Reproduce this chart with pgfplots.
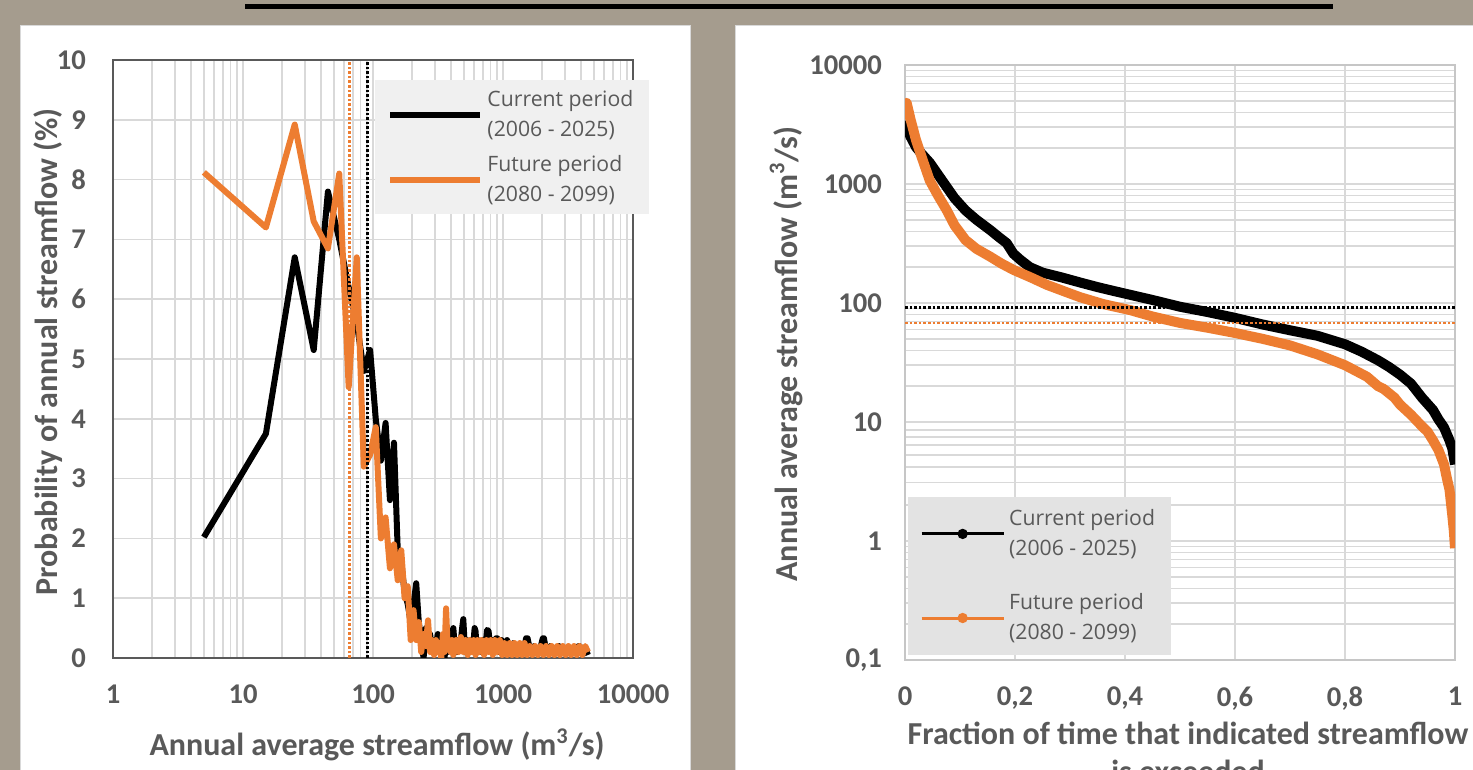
\documentclass[border=0pt]{standalone}
\usepackage{fontspec}
\setmainfont{Carlito}
\newfontfamily\legfont{Open Sans}
\usepackage{pgfplots}
\pgfplotsset{compat=1.18}
\definecolor{bgstone}{RGB}{165,156,142}
\definecolor{xlorange}{RGB}{237,125,49}
\definecolor{txtgray}{RGB}{89,89,89}
\definecolor{gridgray}{RGB}{217,217,217}
\pgfplotsset{
  panel/.style={scale only axis, anchor=south west,
    tick label style={font=\fontsize{14.3}{16}\selectfont\bfseries, text=txtgray},
    major tick length=0pt, minor tick length=0pt,
    grid style={draw=gridgray, line width=0.8pt},
    xticklabel style={yshift=-10pt},
    legend style={font=\legfont\fontsize{10.6}{15}\selectfont, text=txtgray, draw=none,
      cells={anchor=west, align=left}},
    legend cell align=left},
}
\tikzset{axlabel/.style={font=\fontsize{16}{19}\selectfont\bfseries, text=txtgray}}
\begin{document}
\begin{tikzpicture}
\useasboundingbox (0,0) rectangle (736.5pt,385pt);
\clip (0,0) rectangle (736.5pt,385pt);
\fill[bgstone] (0,0) rectangle (736.5pt,385pt);
\filldraw[fill=white, draw=gray!30] (10pt,-10pt) rectangle (345pt,372.5pt);
\filldraw[fill=white, draw=gray!30] (367.5pt,-10pt) rectangle (745pt,372.5pt);
\draw[black, line width=2.5pt] (122.5pt,381.5pt) -- (666.5pt,381.5pt);

% left: probability of annual streamflow
\begin{axis}[panel, at={(56.5pt,56pt)}, width=260pt, height=299pt,
  xmode=log, xmin=1, xmax=10000, ymin=0, ymax=10,
  xtick={1,10,100,1000,10000}, xticklabels={1,10,100,1000,10000},
  minor xtick={2,...,9,20,30,...,90,200,300,...,900,2000,3000,...,9000},
  ytick={0,1,2,3,4,5,6,7,8,9,10}, yticklabels={0,1,2,3,4,5,6,7,8,9,10},
  yticklabel style={xshift=-10pt},
  xmajorgrids, xminorgrids, ymajorgrids,
  axis line style={draw=txtgray, line width=0.8pt},
  legend style={at={(0.504,0.967)}, anchor=north west, fill=gray!12,
    inner xsep=6pt, inner ysep=3pt, row sep=4pt},
  legend image code/.code={\draw[#1] (0pt,0pt) -- (45pt,0pt);}]
\addplot[black, line width=3pt, line join=round] coordinates {
 (5,2.02) (15,3.75) (25,6.7) (35,5.15) (45,7.8) (55,7.0) (65,6.2) (75,5.6) (85,4.8)
 (95,5.15) (105,4.0) (115,3.3) (125,3.93) (135,2.64) (145,3.6) (155,1.8) (165,1.6)
 (175,1.1) (185,0.9) (195,0.6) (205,0.9) (215,1.25) (225,0.6) (235,0.3) (245,0)
 (255,0.5) (265,0.2) (275,0.4) (285,0.1) (295,0.3) (305,0.2) (315,0.4) (325,0.1)
 (335,0.3) (345,0.2) (355,0) (365,0.3) (375,0.1) (385,0.3) (395,0.2) (405,0.4)
 (415,0.5) (425,0.2) (435,0.3) (445,0.1) (455,0.3) (465,0.2) (475,0.3) (485,0.5)
 (495,0.65) (505,0.3) (515,0.1) (525,0.3) (545,0.2) (565,0.3) (585,0.1) (605,0.5)
 (615,0.45) (625,0.2) (645,0.3) (665,0.1) (695,0.3) (725,0.1) (755,0.47) (775,0.45)
 (795,0.2) (825,0.3) (855,0.1) (885,0.33) (905,0.33) (935,0.1) (975,0.3) (1025,0.1)
 (1075,0.3) (1125,0.1) (1195,0.25) (1275,0.1) (1355,0.2) (1445,0.1) (1505,0.33)
 (1545,0.33) (1625,0.1) (1725,0.2) (1835,0.1) (1955,0.2) (2025,0.33) (2065,0.33)
 (2155,0.1) (2305,0.2) (2505,0.1) (2705,0.2) (2955,0.1) (3205,0.15) (3505,0.1)
 (3805,0.2) (3905,0.2) (4105,0.1) (4405,0.1) (4505,0.05)};
\addlegendentry{Current period\\(2006 - 2025)}
\addplot[xlorange, line width=3pt, line join=round] coordinates {
 (5,8.12) (15,7.2) (25,8.92) (35,7.3) (45,6.85) (55,8.1) (65,4.53) (75,6.7) (85,3.2)
 (95,3.4) (105,3.86) (115,2.0) (125,2.35) (135,1.5) (145,1.9) (155,1.3) (165,1.8)
 (175,1.0) (185,1.2) (195,0.3) (205,0.8) (215,0.3) (225,0.6) (235,0.1) (245,0.4)
 (255,0.2) (265,0.63) (275,0.1) (285,0.3) (295,0.05) (305,0.3) (315,0.1) (325,0.2)
 (335,0) (345,0.4) (355,0.1) (365,0.83) (375,0.2) (385,0.3) (395,0.1) (405,0.3)
 (415,0.05) (435,0.3) (455,0.1) (475,0.35) (495,0.1) (515,0.3) (535,0.05) (555,0.3)
 (575,0.1) (595,0.3) (615,0.05) (635,0.3) (655,0.1) (685,0.3) (715,0.05) (745,0.3)
 (775,0.1) (805,0.3) (835,0.05) (865,0.3) (905,0.1) (945,0.3) (985,0.05) (1025,0.25)
 (1075,0.05) (1125,0.25) (1175,0.05) (1225,0.25) (1285,0.05) (1345,0.25) (1405,0.05)
 (1465,0.25) (1535,0.05) (1605,0.2) (1685,0.05) (1765,0.2) (1855,0.05) (1945,0.2)
 (2045,0.05) (2145,0.2) (2255,0.05) (2365,0.2) (2485,0.05) (2615,0.2) (2745,0.05)
 (2885,0.2) (3035,0.05) (3185,0.2) (3345,0.05) (3515,0.2) (3695,0.05) (3885,0.2)
 (4085,0.05) (4295,0.2) (4505,0.1)};
\addlegendentry{Future period\\(2080 - 2099)}
\addplot[black, densely dotted, line width=1.3pt, forget plot] coordinates {(91,0) (91,10)};
\addplot[xlorange, densely dotted, line width=1.3pt, forget plot] coordinates {(66,0) (66,10)};
\end{axis}

% right: flow duration curve
\begin{axis}[panel, at={(452.5pt,55pt)}, width=275pt, height=297.5pt,
  ymode=log, xmin=0, xmax=1, ymin=0.1, ymax=10000,
  xtick={0,0.2,0.4,0.6,0.8,1}, xticklabels={0,{0,2},{0,4},{0,6},{0,8},1},
  ytick={0.1,1,10,100,1000,10000}, yticklabels={{0,1},1,10,100,1000,10000},
  minor ytick={0.2,0.3,0.4,0.5,0.6,0.7,0.8,0.9,2,...,9,20,30,...,90,200,300,...,900,2000,3000,...,9000},
  yticklabel style={xshift=-8pt},
  xmajorgrids, ymajorgrids, yminorgrids,
  axis line style={draw=gray!45, line width=0.8pt},
  legend style={at={(0.005,0.274)}, anchor=north west, fill=gray!22,
    inner xsep=6pt, inner ysep=4pt, row sep=13.5pt},
  legend image code/.code={\draw[#1, line width=1.5pt] (0pt,0pt) -- (41pt,0pt);
    \fill[#1, draw=none] (20.5pt,0pt) circle (2.6pt);}]
\addplot[black, line width=5pt, line join=round] coordinates {
 (0,3400) (0.005,2800) (0.01,2500) (0.02,2040) (0.03,1800) (0.045,1510) (0.06,1200)
 (0.076,940) (0.09,760) (0.11,600) (0.13,500) (0.155,410) (0.17,360) (0.185,318)
 (0.197,260) (0.21,230) (0.227,200) (0.25,180) (0.287,163) (0.32,148) (0.35,136)
 (0.38,126) (0.41,117) (0.45,106) (0.5,93) (0.55,84) (0.6,75) (0.65,66) (0.7,59)
 (0.75,53) (0.8,45) (0.83,39) (0.86,33) (0.88,29) (0.9,25) (0.92,21) (0.94,16)
 (0.96,12.6) (0.97,10.5) (0.98,9) (0.99,7) (0.995,6) (1,4.4)};
\addlegendentry{Current period\\(2006 - 2025)}
\addplot[xlorange, line width=5pt, line join=round] coordinates {
 (0,3500) (0.003,4800) (0.01,3500) (0.02,2340) (0.03,1700) (0.045,1070) (0.06,800)
 (0.076,600) (0.09,450) (0.11,338) (0.13,285) (0.155,245) (0.175,215) (0.197,190)
 (0.23,163) (0.258,142) (0.29,125) (0.318,112) (0.36,98) (0.41,87) (0.45,77)
 (0.5,68) (0.55,62) (0.6,56) (0.65,50) (0.7,44) (0.75,37) (0.8,30) (0.84,24)
 (0.86,20) (0.87,19) (0.89,16) (0.9,14) (0.92,11.5) (0.94,9.2) (0.95,8.3) (0.96,7)
 (0.97,5.8) (0.98,4.4) (0.985,3.4) (0.99,2.7) (0.995,1.65) (0.998,1.2) (1,0.87)};
\addlegendentry{Future period\\(2080 - 2099)}
\addplot[black, densely dotted, line width=1.3pt, forget plot] coordinates {(0,92) (1,92)};
\addplot[xlorange, densely dotted, line width=1.3pt, forget plot] coordinates {(0,68) (1,68)};
\end{axis}

\node[axlabel, rotate=90, anchor=base] at (28.5pt,209pt) {Probability of annual streamflow (\%)};
\node[axlabel, anchor=base] at (188.5pt,7pt) {Annual average streamflow (m\textsuperscript{3}/s)};
\node[axlabel, rotate=90, anchor=base] at (398.5pt,208pt) {Annual average streamflow (m\textsuperscript{3}/s)};
\node[axlabel, anchor=base] at (594pt,12.5pt) {Fraction of time that indicated streamflow};
\node[axlabel, anchor=base] at (594pt,-6.5pt) {is exceeded};
\end{tikzpicture}
\end{document}
